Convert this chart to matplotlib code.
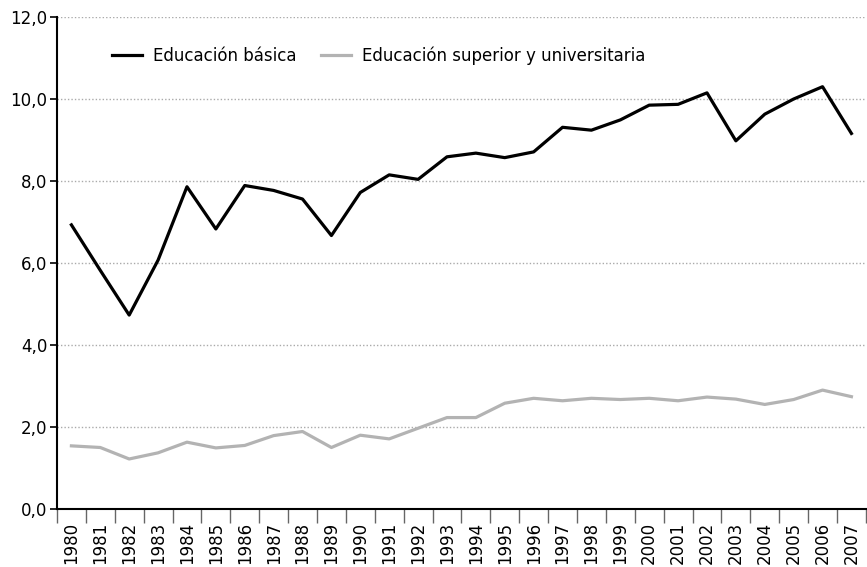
import matplotlib
matplotlib.use("Agg")
import matplotlib.pyplot as plt
import numpy as np

years = list(range(1980, 2008))
basica = [6.93, 5.82, 4.73, 6.07, 7.86, 6.83, 7.89, 7.77, 7.56, 6.67,
          7.72, 8.15, 8.04, 8.59, 8.68, 8.57, 8.71, 9.31, 9.24, 9.49,
          9.85, 9.87, 10.15, 8.98, 9.63, 10.0, 10.3, 9.16]
superior = [1.54, 1.50, 1.22, 1.37, 1.63, 1.49, 1.55, 1.79, 1.89, 1.50,
            1.80, 1.71, 1.97, 2.23, 2.23, 2.58, 2.70, 2.64, 2.70, 2.67,
            2.70, 2.64, 2.73, 2.68, 2.55, 2.67, 2.90, 2.74]
yticks = [0, 2, 4, 6, 8, 10, 12]

plt.rcParams['font.family'] = ['DejaVu Sans']

fig = plt.figure(figsize=(8.67, 5.67), dpi=100)
ax = fig.add_axes([0.0657, 0.1023, 0.933, 0.8677])

x = np.arange(len(years))
ax.plot(x, basica, color='black', lw=2.3, label='Educación básica')
ax.plot(x, superior, color='#b3b3b3', lw=2.3, label='Educación superior y universitaria')

ax.set_xlim(-0.5, len(years) - 0.5)
ax.set_ylim(0, 12)

# y axis
ax.set_yticks(yticks)
ax.set_yticklabels([f"{v:.1f}".replace('.', ',') for v in yticks], fontsize=12)
ax.yaxis.grid(True, linestyle=(0, (1, 1.5)), color='#aaaaaa', lw=1.0)
ax.tick_params(axis='y', length=5, width=1.2, direction='out', pad=2)

# x axis: labels at category centers, tick marks at boundaries
ax.set_xticks(x)
ax.set_xticklabels([str(y) for y in years], rotation=90, fontsize=12)
ax.set_xticks(np.arange(-0.5, len(years), 1), minor=True)
ax.tick_params(axis='x', which='major', length=0, pad=9)
ax.tick_params(axis='x', which='minor', length=10, width=1.0, direction='out', color='#666666')

for s in ['top', 'right']:
    ax.spines[s].set_visible(False)
ax.spines['left'].set_linewidth(1.5)
ax.spines['bottom'].set_linewidth(1.5)
ax.set_axisbelow(True)

ax.legend(loc='upper left', bbox_to_anchor=(0.05, 0.97), ncol=2, frameon=False,
          fontsize=12, handlelength=1.8, handletextpad=0.65, columnspacing=1.45)

fig.savefig('out.png', dpi=100)
